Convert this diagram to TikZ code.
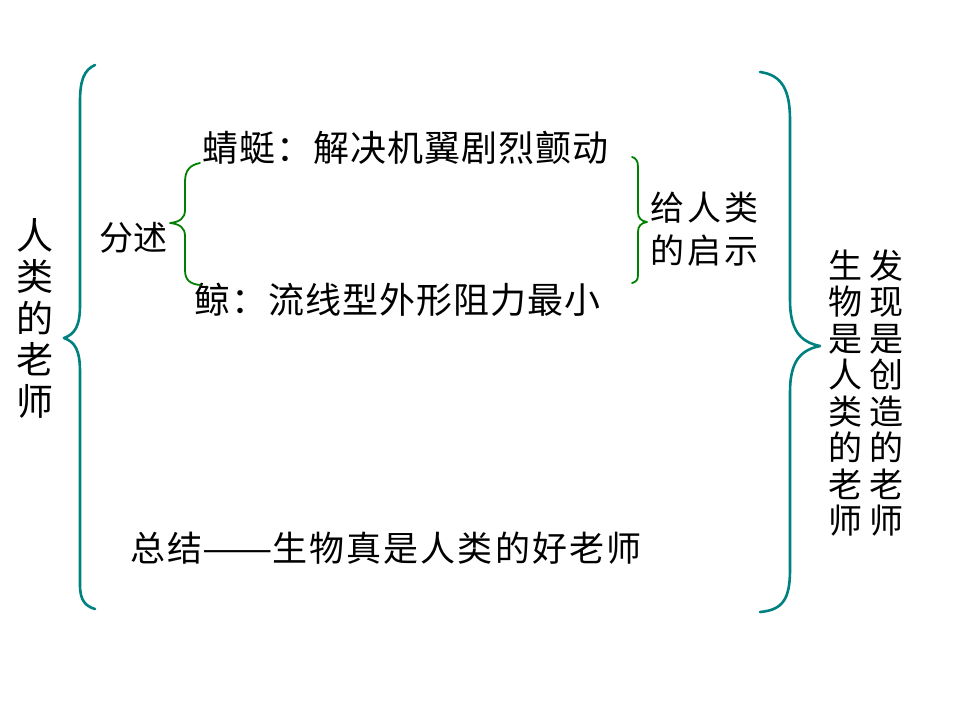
\documentclass[tikz,border=0pt]{standalone}
\usepackage{fontspec}
\newfontfamily\cjk{Noto Sans CJK SC}
\definecolor{braceteal}{RGB}{0,128,128}
\definecolor{bracegreen}{RGB}{0,128,0}
\begin{document}
\begin{tikzpicture}[x=1pt,y=-1pt,
  txt/.style={inner sep=0pt, outer sep=0pt, anchor=west, text=black},
  bigbrace/.style={draw=braceteal, line width=2.6pt, line cap=round, line join=round},
  smallbrace/.style={draw=bracegreen, line width=1.8pt, line cap=round, line join=round},
  vstack/.style={inner sep=0pt, align=center, text=black}]
\useasboundingbox[fill=white] (0,0) rectangle (960,720);

% texts
\node[vstack, font={\cjk\fontsize{37}{41.5}\selectfont}] (left) at (35,318) {人\\类\\的\\老\\师};
\node[txt, font={\cjk\fontsize{34}{36}\selectfont\addfontfeature{LetterSpace=2}}] (fenshu) at (99,238) {分述};
\node[txt, font={\cjk\fontsize{36}{38}\selectfont\addfontfeature{LetterSpace=3}}] (qingting) at (202,148) {蜻蜓：解决机翼剧烈颤动};
\node[txt, font={\cjk\fontsize{36}{38}\selectfont\addfontfeature{LetterSpace=3}}] (jing) at (194,300) {鲸：流线型外形阻力最小};
\node[txt, font={\cjk\fontsize{34}{43}\selectfont\addfontfeature{LetterSpace=9}}, align=left] (qishi) at (650,229) {给人类\\的启示};
\node[vstack, font={\cjk\fontsize{34}{36.5}\selectfont}] (col1) at (845,393) {生\\物\\是\\人\\类\\的\\老\\师};
\node[vstack, font={\cjk\fontsize{34}{36.5}\selectfont}] (col2) at (886,393) {发\\现\\是\\创\\造\\的\\老\\师};
\node[txt, font={\cjk\fontsize{35}{38}\selectfont\addfontfeature{LetterSpace=6}}] (zongjie) at (130,548) {总结\scalebox{1.2}[1]{——}生物真是人类的好老师};

% big teal braces
\path[bigbrace] (95,65) .. controls (84,70) and (80,80) .. (80,102) -- (80,305)
  .. controls (80,326) and (75,334) .. (64,338)
  .. controls (75,342) and (80,350) .. (80,372) -- (80,585)
  .. controls (80,600) and (85,606) .. (95,609);
\path[bigbrace] (760,72) .. controls (782,75) and (790,90) .. (790,120) -- (790,300)
  .. controls (790,330) and (800,342) .. (820,346)
  .. controls (800,350) and (790,362) .. (790,392) -- (790,570)
  .. controls (790,600) and (782,610) .. (760,612);

% small green braces
\path[smallbrace] (200,163) .. controls (190,165) and (185,170) .. (185,182) -- (185,210)
  .. controls (185,218) and (180,222) .. (170,223)
  .. controls (180,224) and (185,228) .. (185,236) -- (185,270)
  .. controls (185,280) and (190,284) .. (200,285);
\path[smallbrace] (632,157) .. controls (636,158) and (638,161) .. (638,167) -- (638,212)
  .. controls (638,218) and (641,221) .. (647,222)
  .. controls (641,223) and (638,226) .. (638,232) -- (638,275)
  .. controls (638,280) and (636,282) .. (632,283);
\end{tikzpicture}
\end{document}
